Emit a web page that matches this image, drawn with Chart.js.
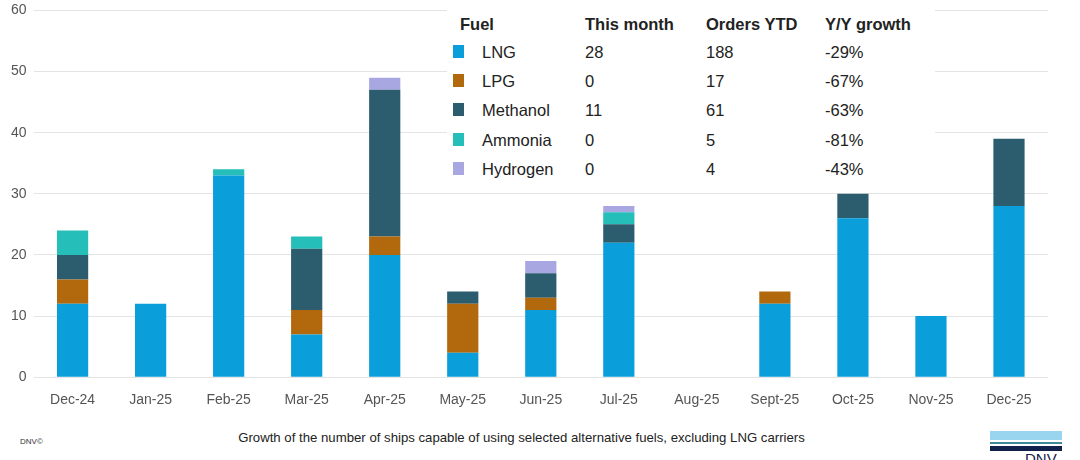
<!DOCTYPE html>
<html>
<head>
<meta charset="utf-8">
<script src="https://cdn.jsdelivr.net/npm/chart.js@4"></script>
<style>
  body { margin: 0; background: #fff; font-family: "Liberation Sans", Arial, sans-serif; }
  #wrap { position: relative; width: 1080px; height: 460px; overflow: hidden; }
  #chartBox { position: absolute; left: 0; top: -5px; width: 1080px; height: 425px; }
  #legendBox { position: absolute; left: 447px; top: 4px; width: 488px; height: 182px; background: #fff; color: #222; font-size: 16.5px; }
  #legendBox div { position: absolute; white-space: nowrap; line-height: 20px; }
  #legendBox .hd { font-weight: bold; }
  #legendBox .sw { width: 11px; height: 13px; }
  #caption { position: absolute; left: 0; width: 1043px; top: 430px; text-align: center; font-size: 13.2px; color: #222; }
  #dnvc { position: absolute; left: 20px; top: 437px; font-size: 8px; color: #333; }
</style>
</head>
<body>
<div id="wrap">
  <div id="chartBox"><canvas id="myChart"></canvas></div>
  <div id="legendBox"></div>
  <div id="dnvc">DNV©</div>
  <div id="caption">Growth of the number of ships capable of using selected alternative fuels, excluding LNG carriers</div>
  <div style="position:absolute;left:990px;top:431px;width:72px;height:9px;background:#99d5ee"></div>
  <div style="position:absolute;left:990px;top:442px;width:72px;height:2px;background:#3f8a9a"></div>
  <div style="position:absolute;left:990px;top:446px;width:72px;height:5px;background:#0f204b"></div>
  <div style="position:absolute;left:1025px;top:451px;font-size:15px;color:#0f204b;line-height:15px">DNV</div>
</div>

<script>
// months on the x axis
const months = ['Dec-24', 'Jan-25', 'Feb-25', 'Mar-25', 'Apr-25', 'May-25', 'Jun-25',
                'Jul-25', 'Aug-25', 'Sept-25', 'Oct-25', 'Nov-25', 'Dec-25'];

// ships ordered per month, per fuel
const lng      = [12, 12, 33, 7, 20, 4, 11, 22, 0, 12, 26, 10, 28];
const lpg      = [4, 0, 0, 4, 3, 8, 2, 0, 0, 2, 0, 0, 0];
const methanol = [4, 0, 0, 10, 24, 2, 4, 3, 0, 0, 4, 0, 11];
const ammonia  = [4, 0, 1, 2, 0, 0, 0, 2, 0, 0, 0, 0, 0];
const hydrogen = [0, 0, 0, 0, 2, 0, 2, 1, 0, 0, 0, 0, 0];

// legend table
const fuels      = ['LNG', 'LPG', 'Methanol', 'Ammonia', 'Hydrogen'];
const thisMonth  = ['28', '0', '11', '0', '0'];
const ordersYTD  = ['188', '17', '61', '5', '4'];
const yoyGrowth  = ['-29%', '-67%', '-63%', '-81%', '-43%'];
const colors     = ['#0a9edb', '#b2680c', '#2b5d6e', '#25beb8', '#a8a7e2'];

const yTicks = [0, 10, 20, 30, 40, 50, 60];

const series = [lng, lpg, methanol, ammonia, hydrogen];

const data = {
    labels: months,
    datasets: series.map((vals, i) => ({
        label: fuels[i],
        data: vals,
        backgroundColor: colors[i],
        borderWidth: 0,
        barPercentage: 0.4,
        categoryPercentage: 1
    }))
};

const config = {
    type: 'bar',
    data: data,
    options: {
        responsive: true,
        maintainAspectRatio: false,
        animation: false,
        layout: { padding: { top: 0, left: 4, right: 32, bottom: 4 } },
        plugins: { legend: { display: false }, tooltip: { enabled: false } },
        scales: {
            x: {
                stacked: true,
                grid: { display: false },
                border: { display: false },
                ticks: { color: '#555', font: { size: 14, family: 'Liberation Sans' }, padding: 7, maxRotation: 0 }
            },
            y: {
                stacked: true,
                min: 0,
                max: 60,
                afterBuildTicks: axis => { axis.ticks = yTicks.map(v => ({ value: v })); },
                grid: { color: '#e4e4e4', drawTicks: false },
                border: { display: false },
                ticks: { color: '#555', font: { size: 14, family: 'Liberation Sans' }, padding: 7 }
            }
        }
    }
};

const myChart = new Chart(document.getElementById('myChart'), config);

// legend table drawn as html over the chart
const box = document.getElementById('legendBox');
function cell(txt, x, y, cls) {
    const d = document.createElement('div');
    d.textContent = txt;
    d.style.left = x + 'px';
    d.style.top = y + 'px';
    if (cls) d.className = cls;
    box.appendChild(d);
}
const cols = [35, 138, 259, 378];
cell('Fuel', 13, 10, 'hd');
cell('This month', cols[1], 10, 'hd');
cell('Orders YTD', cols[2], 10, 'hd');
cell('Y/Y growth', cols[3], 10, 'hd');
fuels.forEach((f, i) => {
    const y = 38 + i * 29.2;
    const sw = document.createElement('div');
    sw.className = 'sw';
    sw.style.left = '6px';
    sw.style.top = (y + 3) + 'px';
    sw.style.background = colors[i];
    box.appendChild(sw);
    cell(f, cols[0], y);
    cell(thisMonth[i], cols[1], y);
    cell(ordersYTD[i], cols[2], y);
    cell(yoyGrowth[i], cols[3], y);
});
</script>
</body>
</html>
